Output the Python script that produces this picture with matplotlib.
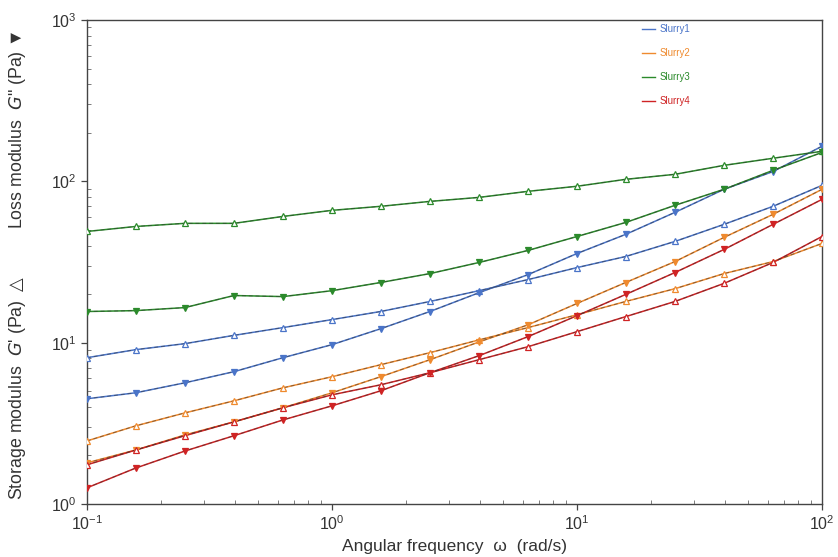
import numpy as np
import matplotlib
matplotlib.use("Agg")
import matplotlib.pyplot as plt
from matplotlib.lines import Line2D
from matplotlib.ticker import LogLocator, NullFormatter

plt.rcParams["font.family"] = ["Liberation Sans", "DejaVu Sans"]
plt.rcParams["mathtext.fontset"] = "custom"
plt.rcParams["mathtext.rm"] = "Liberation Sans"
plt.rcParams["mathtext.it"] = "Liberation Sans:italic"

# angular frequency (rad/s), 5 points per decade
omega = [0.1, 0.158, 0.251, 0.398, 0.631, 1.0, 1.58, 2.51, 3.98, 6.31,
         10.0, 15.8, 25.1, 39.8, 63.1, 100.0]

names = ["Slurry1", "Slurry2", "Slurry3", "Slurry4"]
colors = ["#4a74c8", "#ef8a2e", "#2b8a2b", "#cf2324"]

# storage modulus G' (Pa)
g1_storage = [8.07, 9.05, 9.86, 11.1, 12.4, 13.9, 15.6, 18.0, 21.0, 24.6,
              29.2, 34.2, 42.4, 54.1, 70.0, 94.4]
g2_storage = [2.46, 3.05, 3.67, 4.36, 5.25, 6.15, 7.30, 8.67, 10.4, 12.4,
              14.9, 18.0, 21.6, 26.8, 31.8, 41.2]
g3_storage = [48.9, 52.5, 54.9, 54.9, 60.6, 66.1, 70.0, 75.1, 79.5, 86.7,
              93.2, 102.9, 110.5, 125.6, 139.0, 153.5]
g4_storage = [1.75, 2.16, 2.65, 3.23, 3.95, 4.75, 5.48, 6.51, 7.84, 9.44,
              11.7, 14.5, 18.0, 23.3, 31.4, 45.5]

# loss modulus G'' (Pa)
g1_loss = [4.49, 4.89, 5.64, 6.61, 8.07, 9.72, 12.2, 15.6, 20.4, 26.4,
           35.7, 46.9, 64.2, 89.2, 115.0, 165.0]
g2_loss = [1.80, 2.16, 2.68, 3.23, 3.95, 4.89, 6.15, 7.84, 10.1, 12.9,
           17.5, 23.6, 31.8, 44.9, 62.4, 89.2]
g3_loss = [15.6, 15.8, 16.5, 19.6, 19.3, 21.0, 23.6, 26.8, 31.4, 37.3,
           45.5, 55.6, 71.0, 89.2, 117.0, 151.0]
g4_loss = [1.26, 1.67, 2.13, 2.65, 3.32, 4.06, 5.03, 6.51, 8.30, 10.9,
           14.7, 19.9, 27.2, 37.8, 54.1, 77.3]

storage = [g1_storage, g2_storage, g3_storage, g4_storage]
loss = [g1_loss, g2_loss, g3_loss, g4_loss]

fig = plt.figure(figsize=(8.38, 5.57), dpi=100)
ax = fig.add_axes([87 / 838, 1 - 504 / 557, (822 - 87) / 838, (504 - 20) / 557])


def draw(y, c, marker, face):
    ax.plot(omega, y, color=c, lw=1.1, zorder=2)
    # dark dashes laid over the coloured line
    ax.plot(omega, y, color="#333333", lw=0.7, ls=(0, (4, 3)), alpha=0.55, zorder=3)
    ax.plot(omega, y, ls="none", marker=marker, ms=5, mfc=face, mec=c,
            mew=0.9, zorder=4)


for c, gs, gl in zip(colors, storage, loss):
    draw(gs, c, "^", "white")
    draw(gl, c, "v", c)

ax.set_xscale("log")
ax.set_yscale("log")
ax.set_xlim(0.1, 100)
ax.set_ylim(1, 1000)

for sp in ax.spines.values():
    sp.set_color("#444444")
    sp.set_linewidth(1.0)

for axis in (ax.xaxis, ax.yaxis):
    axis.set_major_locator(LogLocator(base=10, numticks=10))
    axis.set_minor_locator(LogLocator(base=10, subs=np.arange(2, 10), numticks=10))
    axis.set_minor_formatter(NullFormatter())
ax.tick_params(which="major", direction="out", length=4, width=0.9,
               colors="#444444", labelsize=11.5, labelcolor="#333333")
ax.tick_params(which="minor", direction="in", length=3, width=0.6,
               colors="#666666")

ax.set_xlabel("Angular frequency  \u03c9  (rad/s)", fontsize=12.5,
              color="#333333", labelpad=4)

# y label in two parts: storage (lower half) and loss (upper half)
ylab = dict(rotation=90, ha="center", va="center", fontsize=12.8,
            color="#333333", math_fontfamily="dejavusans")
fig.text(18 / 838, 1 - 388 / 557,
         "Storage modulus  $\\it{G}$' (Pa) $\\triangle$", **ylab)
fig.text(18 / 838, 1 - 130 / 557,
         "Loss modulus  $\\it{G}$\" (Pa) \u25bc", **ylab)

handles = [Line2D([], [], color=c, lw=1.0) for c in colors]
fig.legend(handles, names, loc="upper left",
           bbox_to_anchor=(642 / 838, 1 - 24 / 557), frameon=False,
           fontsize=7, handlelength=1.3, handletextpad=0.5,
           labelspacing=1.45, borderpad=0, borderaxespad=0,
           labelcolor="linecolor")

fig.savefig("out.png", dpi=100)
